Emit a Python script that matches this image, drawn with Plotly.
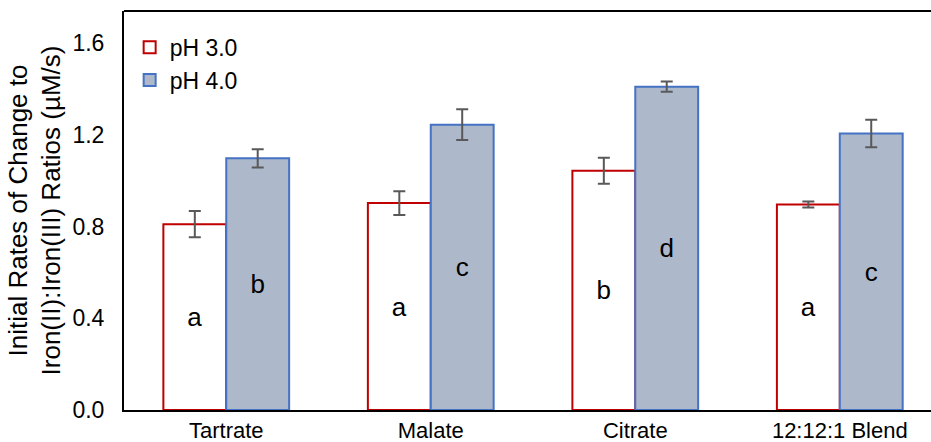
import plotly.graph_objects as go

categories = ["Tartrate", "Malate", "Citrate", "12:12:1 Blend"]
ph3_values = [0.811, 0.903, 1.044, 0.897]
ph3_errors = [0.057, 0.052, 0.057, 0.013]
ph3_letters = ["a", "a", "b", "a"]
ph4_values = [1.098, 1.245, 1.411, 1.207]
ph4_errors = [0.040, 0.067, 0.022, 0.060]
ph4_letters = ["b", "c", "d", "c"]
y_ticks = [0.0, 0.4, 0.8, 1.2, 1.6]

FONT = "Liberation Sans, Arial, sans-serif"

fig = go.Figure()
fig.add_trace(go.Bar(
    name="pH 3.0", x=categories, y=ph3_values,
    marker=dict(color="white", line=dict(color="#C00000", width=2)),
    error_y=dict(type="data", array=ph3_errors, color="#595959", thickness=2, width=6),
    text=ph3_letters, textposition="inside", insidetextanchor="middle",
    textfont=dict(size=26, color="black", family=FONT), textangle=0,
))
fig.add_trace(go.Bar(
    name="pH 4.0", x=categories, y=ph4_values,
    marker=dict(color="#ADB9CA", line=dict(color="#4472C4", width=2)),
    error_y=dict(type="data", array=ph4_errors, color="#595959", thickness=2, width=6),
    text=ph4_letters, textposition="inside", insidetextanchor="middle",
    textfont=dict(size=26, color="black", family=FONT), textangle=0,
))

fig.update_layout(
    width=931, height=442,
    margin=dict(l=124, r=0, t=11, b=32, autoexpand=False),
    plot_bgcolor="white", paper_bgcolor="white",
    barmode="group", bargap=0.385, bargroupgap=0,
    font=dict(family=FONT, size=23, color="black"),
    showlegend=True,
    legend=dict(x=0.007, y=0.963, xanchor="left", yanchor="top",
                font=dict(size=23, family=FONT), bgcolor="rgba(0,0,0,0)",
                itemwidth=30),
)
fig.update_xaxes(
    range=[-0.5, 3.446], showline=True, linecolor="black", linewidth=2,
    mirror=False, ticks="", showgrid=False, automargin=False,
    tickfont=dict(size=22, family=FONT),
)
fig.update_yaxes(
    range=[0, 1.741], tickvals=y_ticks, ticktext=[f"{v:.1f}" for v in y_ticks],
    showline=True, linecolor="black", linewidth=2, ticks="", showgrid=False,
    automargin=False, tickfont=dict(size=23, family=FONT), ticklabelstandoff=13,
    title=dict(text="Initial Rates of Change to<br>Iron(II):Iron(III) Ratios (µM/s)",
               font=dict(size=26, family=FONT), standoff=4),
)
# top border line
fig.add_shape(type="line", xref="paper", yref="paper", x0=0, x1=1, y0=1, y1=1,
              line=dict(color="black", width=2))

fig.write_html("out.html", config={"displayModeBar": False},
               post_script="document.body.style.margin='0';")
